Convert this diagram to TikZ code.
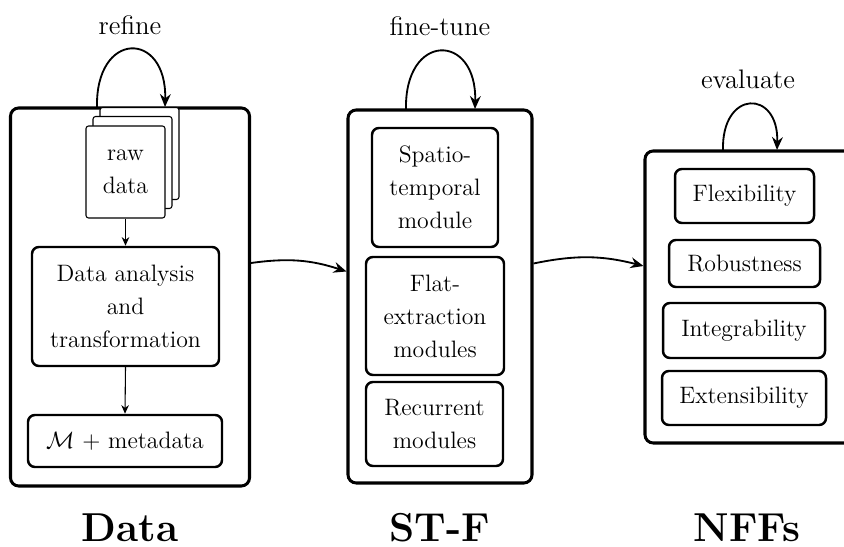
\documentclass[tikz,border=0pt]{standalone}
\usetikzlibrary{arrows.meta,calc}

% one unit = one pixel of an 844 x 547 canvas, y pointing down
\newlength{\px}
\setlength{\px}{0.463pt}

\tikzset{
  panel/.style={draw, line width=1.4pt, rounded corners=3.8pt, fill=white},
  module/.style={draw, line width=1.15pt, rounded corners=3.2pt, align=center,
    font=\fontsize{11}{15.3}\selectfont, inner sep=0pt},
  sheet/.style={draw, line width=0.5pt, rounded corners=1.2pt, fill=white,
    minimum width=79\px, minimum height=92\px, inner sep=0pt, align=center,
    font=\fontsize{11}{15.3}\selectfont},
  looparrow/.style={line width=0.85pt, -{Stealth[length=6pt,width=5pt,inset=2pt]}},
  flowarrow/.style={line width=0.85pt, -{Stealth[length=6pt,width=5pt,inset=2pt]}},
  smallarrow/.style={line width=0.5pt, -{Stealth[length=4pt,width=3.5pt,inset=1.3pt]}},
  caption/.style={font=\fontsize{12.4}{14}\selectfont},
  title/.style={font=\fontsize{18.7}{22}\selectfont\bfseries},
}

\begin{document}
\begin{tikzpicture}[x=\px, y=-\px]
  \clip (0,0) rectangle (844,547);

  % ---- Data panel ----
  \node[panel, minimum width=239\px, minimum height=378\px] (lp) at (130,297) {};
  \node[sheet] (back) at (139.5,153.5) {};
  \node[sheet] (mid) at (132.5,162.5) {};
  \node[sheet] (raw) at (125.5,172) {raw\\data};
  \node[module, minimum width=187\px, minimum height=119\px] (ana) at (125.5,306.5)
    {Data analysis\\and\\transformation};
  \node[module, minimum width=194\px, minimum height=52\px] (meta) at (125,441)
    {$\mathcal{M}$ + metadata};
  \draw[smallarrow] (raw.south) -- (ana.north);
  \draw[smallarrow] (ana.south) -- (meta.north);

  \coordinate (rs) at (97,108);
  \coordinate (re) at (165,107);
  \draw[looparrow] (rs) .. controls (95,30) and (167,30) .. (re);
  \node[caption] (refine) at (130,25) {refine};

  % ---- ST-F panel ----
  \node[panel, minimum width=184\px, minimum height=373\px] (mp) at (440,296.5) {};
  \node[module, minimum width=126\px, minimum height=119\px] (st) at (435,187.5)
    {Spatio-\\temporal\\module};
  \node[module, minimum width=138\px, minimum height=118\px] (flat) at (435,316)
    {Flat-\\extraction\\modules};
  \node[module, minimum width=137\px, minimum height=84\px] (rec) at (434.5,424)
    {Recurrent\\modules};

  \coordinate (fs) at (406,110);
  \coordinate (fe) at (475,109);
  \draw[looparrow] (fs) .. controls (404,32) and (477,32) .. (fe);
  \node[caption] (finetune) at (440,26) {fine-tune};

  % ---- NFFs panel ----
  \node[panel, minimum width=240\px, minimum height=292\px] (rp) at (765,297) {};
  \node[module, minimum width=139\px, minimum height=54\px] (flex) at (744.5,196) {Flexibility};
  \node[module, minimum width=151\px, minimum height=47\px] (rob) at (744.5,263.5) {Robustness};
  \node[module, minimum width=162\px, minimum height=55\px] (integ) at (744,330.5) {Integrability};
  \node[module, minimum width=164\px, minimum height=54\px] (ext) at (744,398) {Extensibility};

  \coordinate (es) at (723,151);
  \coordinate (ee) at (777,150);
  \draw[looparrow] (es) .. controls (721,89) and (779,89) .. (ee);
  \node[caption] (evaluate) at (748,79) {evaluate};

  % ---- flow between panels ----
  \draw[flowarrow] ([yshift=34\px]lp.east) to[bend left=13] ([yshift=25\px]mp.west);
  \draw[flowarrow] ([yshift=33\px]mp.east) to[bend left=13] ([yshift=31\px]rp.west);

  % ---- panel titles ----
  \node[title] (tdata) at (130,528) {Data};
  \node[title] (tstf) at (440,528) {ST-F};
  \node[title] (tnffs) at (747,528) {NFFs};
\end{tikzpicture}
\end{document}
